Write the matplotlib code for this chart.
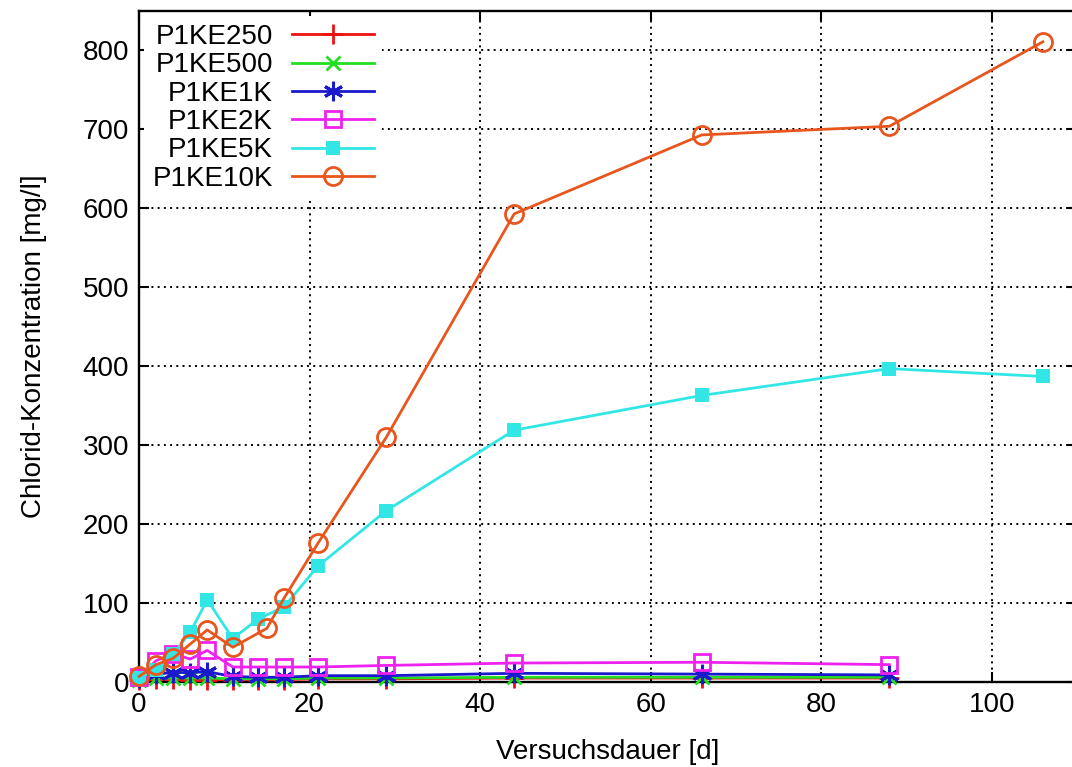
import matplotlib
matplotlib.use("Agg")
import matplotlib.pyplot as plt

plt.rcParams['font.family'] = ['Liberation Sans', 'DejaVu Sans']

# Sampling days
days_short = [0, 2, 4, 6, 8, 11, 14, 17, 21, 29, 44, 66, 88]
days_5k = [0, 2, 4, 6, 8, 11, 14, 17, 21, 29, 44, 66, 88, 106]
days_10k = [0, 2, 4, 6, 8, 11, 15, 17, 21, 29, 44, 66, 88, 106]

# Chloride concentrations [mg/l]
p1ke250 = [3, 4, 4, 3, 3, 3, 3, 3, 4, 4, 5, 5, 5]
p1ke500 = [3, 5, 5, 5, 5, 4, 4, 4, 5, 5, 6, 6, 6]
p1ke1k = [5, 10, 12, 12, 13, 7, 6, 6, 8, 8, 11, 10, 9]
p1ke2k = [6, 27, 36, 29, 40, 19, 19, 19, 19, 21, 24, 25, 22]
p1ke5k = [5, 15, 35, 63, 104, 55, 80, 95, 147, 217, 319, 363, 397, 387]
p1ke10k = [7, 22, 30, 48, 66, 44, 68, 106, 176, 310, 593, 693, 704, 811]

labels = ["P1KE250", "P1KE500", "P1KE1K", "P1KE2K", "P1KE5K", "P1KE10K"]
xticks = [0, 20, 40, 60, 80, 100]
yticks = [0, 100, 200, 300, 400, 500, 600, 700, 800]

W, H = 1072, 767
fig = plt.figure(figsize=(W / 100, H / 100), dpi=100)
ax = fig.add_axes([139 / W, (H - 682) / H, (1077 - 139) / W, (682 - 11) / H])

series = [
    (days_short, p1ke250, dict(color="#ee1111", marker="+", ms=14, mew=2.0, mfc="none")),
    (days_short, p1ke500, dict(color="#22dd22", marker="x", ms=10, mew=2.0, mfc="none")),
    (days_short, p1ke1k, dict(color="#1a1acc", marker=(6, 2, 0), ms=14, mew=2.2, mfc="none")),
    (days_short, p1ke2k, dict(color="#ee22ee", marker="s", ms=11.5, mew=2.0, mfc="none")),
    (days_5k, p1ke5k, dict(color="#33e6e6", marker="s", ms=10.5, mew=0)),
    (days_10k, p1ke10k, dict(color="#e8561e", marker="o", ms=13, mew=2.0, mfc="none")),
]

for (x, y, st), lab in zip(series, labels):
    ax.plot(x, y, lw=2.0, label=lab, clip_on=False, zorder=3, **st)

ax.set_xlim(0, 110)
ax.set_ylim(0, 850)
ax.set_xticks(xticks)
ax.set_yticks(yticks)
ax.tick_params(axis="both", which="both", direction="in", length=7, width=1.5,
               top=True, right=True, labelsize=20, pad=7, colors="black")
for s in ax.spines.values():
    s.set_linewidth(1.7)
    s.set_color("black")
ax.grid(True, color="black", linestyle=(0, (1, 2.2)), linewidth=1.4, zorder=1)
ax.set_axisbelow(True)

ax.set_xlabel("Versuchsdauer [d]", fontsize=20, labelpad=15)
ax.set_ylabel("Chlorid-Konzentration [mg/l]", fontsize=20, labelpad=26)

leg = ax.legend(loc="upper right", bbox_to_anchor=(0.259, 0.993), markerfirst=False,
                frameon=True, fancybox=False, edgecolor="none", facecolor="white",
                framealpha=1, fontsize=20, handlelength=2.95, handletextpad=0.68,
                labelspacing=0.085, borderpad=0.3, numpoints=1, borderaxespad=0.0)
leg.set_zorder(5)

fig.savefig("out.png", dpi=100)
